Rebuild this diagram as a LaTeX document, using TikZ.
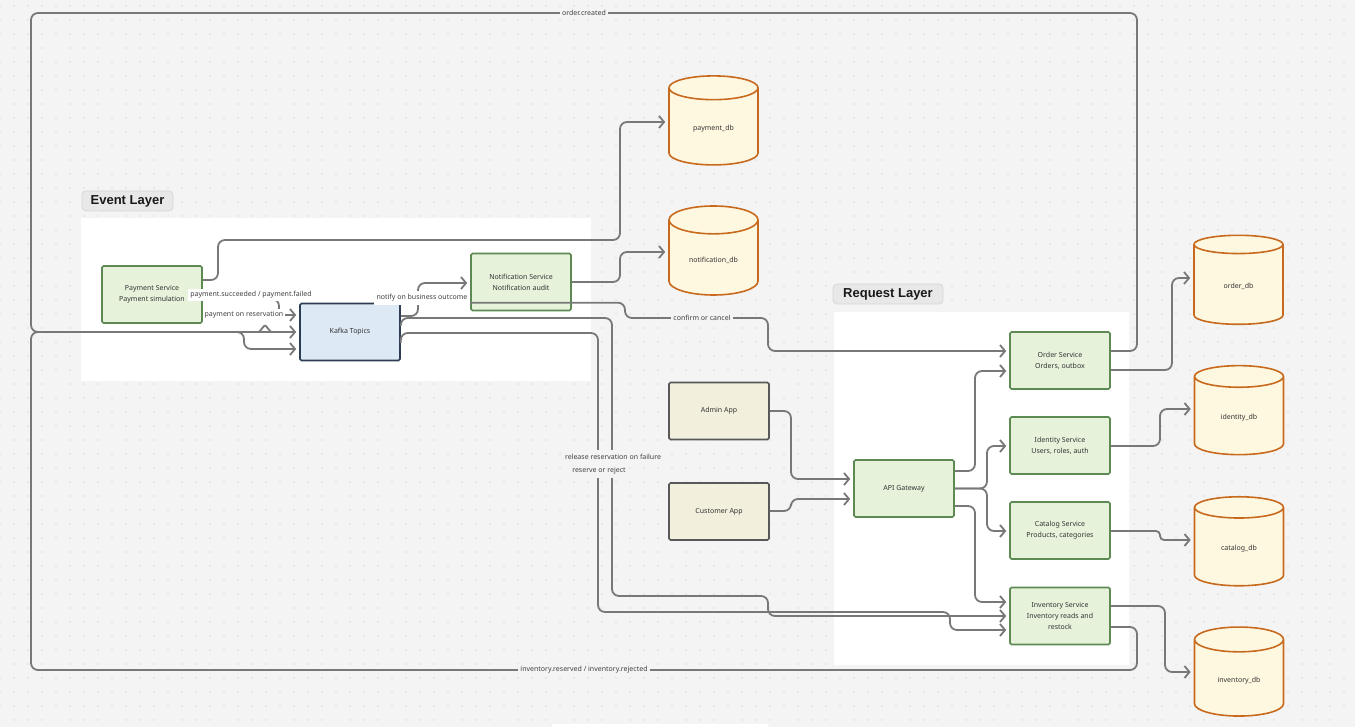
\documentclass[tikz,border=0pt]{standalone}
\usepackage{fontspec}
\setmainfont{Noto Sans}
\newfontfamily\tagfont{Liberation Sans}
\usepackage{xcolor}
\usetikzlibrary{shapes.geometric,arrows.meta,positioning,calc}
\definecolor{canvasgray}{RGB}{244,244,244}
\definecolor{dotgray}{RGB}{196,196,196}
\definecolor{tagfill}{RGB}{232,232,232}
\definecolor{tagline}{RGB}{214,214,214}
\definecolor{svcfill}{RGB}{230,242,218}
\definecolor{svcline}{RGB}{92,138,82}
\definecolor{busfill}{RGB}{221,233,245}
\definecolor{busline}{RGB}{46,62,82}
\definecolor{appfill}{RGB}{242,239,220}
\definecolor{appline}{RGB}{88,88,88}
\definecolor{dbfill}{RGB}{254,248,224}
\definecolor{dbline}{RGB}{200,106,30}
\definecolor{wire}{RGB}{120,120,120}

\begin{document}
\begin{tikzpicture}[
    x=1pt, y=-1pt,
    box/.style={rectangle, draw, line width=1.6pt, rounded corners=1.5pt, minimum width=100pt, minimum height=57pt, align=center, font=\fontsize{7}{11}\selectfont, text=black!80},
    svc/.style={box, fill=svcfill, draw=svcline},
    bus/.style={box, fill=busfill, draw=busline},
    app/.style={box, fill=appfill, draw=appline},
    db/.style={cylinder, shape border rotate=90, aspect=0.5, draw=dbline, fill=dbfill, line width=1.6pt, minimum width=89pt, minimum height=89pt, font=\fontsize{7}{9}\selectfont, text=black!80},
    edge/.style={draw=wire, line width=1.8pt, rounded corners=7pt, shorten >=3pt, -{Straight Barb[length=5pt, width=12pt]}},
    wirelabel/.style={font=\fontsize{7}{8}\selectfont, text=black!75, inner xsep=2pt, inner ysep=2.5pt},
    tag/.style={rectangle, rounded corners=4pt, fill=tagfill, draw=tagline, line width=0.8pt, minimum height=20pt, font=\tagfont\fontsize{13}{14}\selectfont\bfseries, text=black!90}
]
    \useasboundingbox (0,0) rectangle (1355,727);
    % canvas and dot grid
    \fill[canvasgray] (0,0) rectangle (1355,727);
    \foreach \gy in {6,20,...,727}
        \draw[dotgray, line width=1.1pt, line cap=round, dash pattern=on 0pt off 14pt] (0,\gy) -- (1355,\gy);

    % layers
    \fill[white] (81,218) rectangle (591,381);
    \node[tag, minimum width=91pt] (eventtag) at (127.5,201) {Event Layer};
    \fill[white] (834,312) rectangle (1129,665);
    \node[tag, minimum width=110pt] (requesttag) at (888,294) {Request Layer};
    \fill[white] (552,724) rectangle (768,740);

    % event side
    \node[svc] (pay) at (152,294.5) {Payment Service\\Payment simulation};
    \node[bus] (kafka) at (350,332) {Kafka Topics};
    \node[svc] (notif) at (521,282) {Notification Service\\Notification audit};
    \node[db] (paydb) at (713.5,129) {payment\_db};
    \node[db] (notifdb) at (713.5,260.5) {notification\_db};

    % request side
    \node[app] (admin) at (719,411) {Admin App};
    \node[app] (customer) at (719,511.5) {Customer App};
    \node[svc] (gateway) at (904,488.5) {API Gateway};
    \node[svc] (order) at (1060,360.5) {Order Service\\Orders, outbox};
    \node[svc] (identity) at (1060,445.5) {Identity Service\\Users, roles, auth};
    \node[svc] (catalog) at (1060,530.5) {Catalog Service\\Products, categories};
    \node[svc] (inventory) at (1060,616) {Inventory Service\\Inventory reads and\\restock};
    \node[db] (orderdb) at (1238.5,286.5) {order\_db};
    \node[db] (identitydb) at (1239,418) {identity\_db};
    \node[db] (catalogdb) at (1239,549) {catalog\_db};
    \node[db] (inventorydb) at (1239,680.5) {inventory\_db};

    % storage links
    \draw[edge] (pay.east |- 0,280) -| (218,240) -| (620,122) -- (paydb.west |- 0,122);
    \draw[edge] (notif.east |- 0,282) -| (620,252) -- (notifdb.west |- 0,252);
    \draw[edge] (order.east |- 0,370) -| (1172,278) -- (orderdb.west |- 0,278);
    \draw[edge] (identity.east |- 0,446) -| (1160,409) -- (identitydb.west |- 0,409);
    \draw[edge, rounded corners=4pt] (catalog.east |- 0,531) -| (1160,540) -- (catalogdb.west |- 0,540);
    \draw[edge] (inventory.east |- 0,606) -| (1165,672) -- (inventorydb.west |- 0,672);

    % clients and gateway
    \draw[edge] (admin.east |- 0,411) -| (791,479) -- (gateway.west |- 0,479);
    \draw[edge] (customer.east |- 0,511) -| (791,499) -- (gateway.west |- 0,499);
    \draw[edge] (gateway.east |- 0,471) -| (975,371) -- (order.west |- 0,371);
    \draw[edge] (gateway.east) -| (987,446) -- (identity.west |- 0,446);
    \draw[edge] (gateway.east) -| (987,531) -- (catalog.west |- 0,531);
    \draw[edge] (gateway.east |- 0,506) -| (975,602) -- (inventory.west |- 0,602);

    % events
    \draw[edge] (pay.east |- 0,299) -| (279,315) -- (kafka.west |- 0,315);
    \draw[wire, line width=1.8pt, rounded corners=1pt] (259,332) -- (265,325) -- (271,332);
    \draw[edge] (kafka.east |- 0,316) -| (418,283) -- (notif.west |- 0,283);
    \draw[edge] (kafka.north east) -| (625,318) -| (768,351) -- (order.west |- 0,351);
    \draw[edge] (order.east |- 0,351) -| (1137,13) -| (31,332) -- (kafka.west |- 0,332);
    \draw[edge] (inventory.east |- 0,627) -| (1137,670) -| (31,332) -| (244,349) -- (kafka.west |- 0,349);
    \draw[edge] (kafka.east |- 0,326) |- (612,318) |- (768,596) |- (inventory.west |- 0,616);
    \draw[edge] (kafka.east |- 0,343) |- (598,333) |- (950,612) |- (inventory.west |- 0,630);

    % edge labels
    \node[wirelabel, fill=white] (lblpaid) at (251,295) {payment.succeeded / payment.failed};
    \node[wirelabel, fill=white] (lblreserve) at (244,315) {payment on reservation};
    \node[wirelabel, fill=white, inner ysep=3.5pt, inner xsep=3pt] (lblnotify) at (422,298) {notify on business outcome};
    \node[wirelabel, fill=canvasgray] (lblconfirm) at (702,318) {confirm or cancel};
    \node[wirelabel, fill=canvasgray] (lblcreated) at (584,13) {order.created};
    \node[wirelabel, fill=canvasgray] (lblinv) at (584,670) {inventory.reserved / inventory.rejected};
    \node[wirelabel, fill=canvasgray, inner ysep=4pt] (lblrelease) at (613,457) {release reservation on failure};
    \node[wirelabel, fill=canvasgray, inner ysep=4pt] (lblreject) at (599,471) {reserve or reject};
\end{tikzpicture}
\end{document}
